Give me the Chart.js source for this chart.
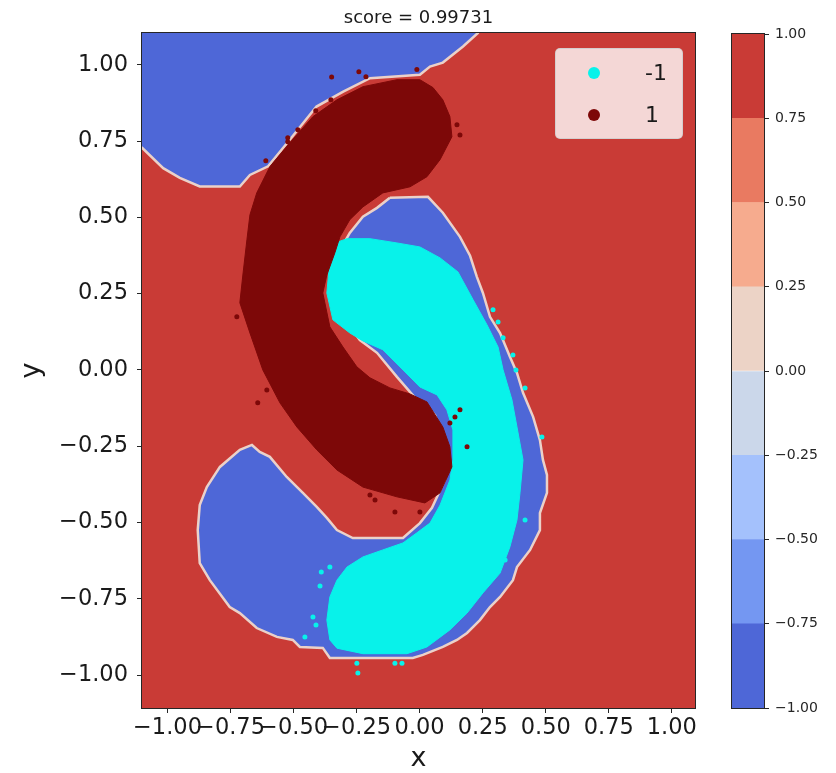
<!DOCTYPE html>
<html>
<head>
<meta charset="utf-8">
<script src="https://cdn.jsdelivr.net/npm/chart.js@4.4.1/dist/chart.umd.min.js"></script>
<style>
  html, body { margin: 0; padding: 0; background: #fff; }
  #wrap { position: relative; width: 836px; height: 773px; overflow: hidden; }
  #wrap canvas { position: absolute; top: 0; }
  #main { left: 0; }
  #cbar { left: 700px; }
  #legend {
    position: absolute; left: 555px; top: 48px; width: 126px; height: 89px;
    background: rgba(255,255,255,0.8); border: 1px solid rgba(204,204,204,0.8);
    border-radius: 5px; font-family: "DejaVu Sans", sans-serif; color: #1a1a1a;
  }
  .legend-row { position: absolute; left: 0; width: 100%; height: 30px; }
  .legend-row:nth-child(1) { top: 9px; }
  .legend-row:nth-child(2) { top: 51px; }
  .legend-dot { position: absolute; left: 32px; top: 9px; width: 12px; height: 12px; border-radius: 50%; }
  .legend-text { position: absolute; left: 89px; top: 0; font-size: 22px; line-height: 30px; }
</style>
</head>
<body>
<div id="wrap">
  <canvas id="main" width="836" height="773"></canvas>
  <canvas id="cbar" width="136" height="773"></canvas>
  <div id="legend"></div>
</div>
<script>
const title = "score = 0.99731";
const seriesLabels = ["-1", "1"];
const seriesColors = ["#08f2ea", "#7d0808"];
const xTicks = [-1, -0.75, -0.5, -0.25, 0, 0.25, 0.5, 0.75, 1];
const yTicks = [-1, -0.75, -0.5, -0.25, 0, 0.25, 0.5, 0.75, 1];
const xRange = [-1.101, 1.092];
const yRange = [-1.108, 1.104];

// contour levels of the decision function and their fill colours (coolwarm)
const levels = [-1, -0.75, -0.5, -0.25, 0, 0.25, 0.5, 0.75, 1];
const levelColors = ["#4e67d7", "#7497f2", "#a4c1fc", "#cbd7ea", "#ecd3c6", "#f6ab8e", "#e97a61", "#c93b36"];
const edgeColor = "#ebd1c9";

// region where the classifier says -1 (everything else is +1)
const blueTopLeft = [[-1.2,1.2],[-1.2,0.75],[-1.101,0.728],[-1.017,0.661],[-0.951,0.629],[-0.872,0.601],[-0.713,0.601],[-0.673,0.639],[-0.601,0.667],[-0.515,0.754],[-0.409,0.863],[-0.303,0.912],[-0.197,0.956],[0.001,0.967],[0.041,0.994],[0.092,1.007],[0.172,1.060],[0.231,1.104],[0.27,1.2]];
const blueMain = [[-0.118,0.564],[0.033,0.567],[0.092,0.515],[0.160,0.436],[0.200,0.374],[0.227,0.305],[0.251,0.252],[0.279,0.174],[0.319,0.121],[0.358,0.043],[0.386,-0.010],[0.410,-0.075],[0.450,-0.154],[0.477,-0.230],[0.489,-0.295],[0.505,-0.344],[0.505,-0.403],[0.477,-0.469],[0.477,-0.525],[0.438,-0.590],[0.386,-0.646],[0.370,-0.689],[0.319,-0.744],[0.279,-0.777],[0.239,-0.820],[0.188,-0.862],[0.148,-0.885],[0.092,-0.908],[0.013,-0.934],[-0.027,-0.944],[-0.356,-0.944],[-0.384,-0.911],[-0.475,-0.908],[-0.503,-0.885],[-0.566,-0.875],[-0.646,-0.846],[-0.713,-0.797],[-0.753,-0.777],[-0.832,-0.689],[-0.872,-0.633],[-0.880,-0.525],[-0.872,-0.443],[-0.844,-0.384],[-0.792,-0.318],[-0.713,-0.262],[-0.665,-0.246],[-0.634,-0.269],[-0.594,-0.285],[-0.527,-0.351],[-0.463,-0.403],[-0.408,-0.449],[-0.368,-0.485],[-0.328,-0.525],[-0.265,-0.551],[-0.066,-0.551],[0.001,-0.502],[0.049,-0.452],[0.100,-0.361],[0.100,-0.246],[0.061,-0.148],[0.029,-0.121],[-0.011,-0.098],[-0.090,-0.023],[-0.169,0.056],[-0.237,0.098],[-0.296,0.164],[-0.316,0.295],[-0.304,0.410],[-0.277,0.449],[-0.225,0.502],[-0.169,0.531]];

// outlines of the dense sample clouds
const cyanCloud = [[-0.336,0.416],[-0.288,0.430],[-0.197,0.430],[-0.090,0.416],[0.001,0.403],[0.081,0.367],[0.152,0.321],[0.212,0.230],[0.267,0.148],[0.311,0.075],[0.331,0.000],[0.366,-0.098],[0.386,-0.187],[0.410,-0.295],[0.398,-0.403],[0.386,-0.492],[0.358,-0.580],[0.319,-0.666],[0.251,-0.731],[0.188,-0.797],[0.120,-0.852],[0.029,-0.908],[-0.050,-0.930],[-0.090,-0.930],[-0.225,-0.930],[-0.328,-0.912],[-0.356,-0.885],[-0.368,-0.820],[-0.356,-0.744],[-0.328,-0.689],[-0.288,-0.646],[-0.225,-0.613],[-0.146,-0.590],[-0.066,-0.567],[-0.011,-0.534],[0.041,-0.502],[0.081,-0.443],[0.120,-0.361],[0.132,-0.295],[0.132,-0.197],[0.108,-0.131],[0.069,-0.082],[0.001,-0.056],[-0.066,0.000],[-0.146,0.066],[-0.225,0.095],[-0.277,0.121],[-0.344,0.164],[-0.368,0.252],[-0.356,0.361]];
const maroonCloud = [[0.128,-0.318],[0.081,-0.403],[0.021,-0.436],[-0.090,-0.416],[-0.225,-0.384],[-0.328,-0.328],[-0.408,-0.262],[-0.487,-0.187],[-0.554,-0.108],[-0.622,0.000],[-0.673,0.121],[-0.713,0.220],[-0.701,0.311],[-0.685,0.426],[-0.673,0.508],[-0.646,0.580],[-0.594,0.666],[-0.515,0.744],[-0.423,0.830],[-0.328,0.885],[-0.225,0.928],[-0.090,0.951],[0.001,0.951],[0.053,0.925],[0.092,0.885],[0.120,0.830],[0.128,0.764],[0.081,0.689],[0.029,0.633],[-0.038,0.600],[-0.146,0.580],[-0.225,0.534],[-0.277,0.492],[-0.316,0.436],[-0.336,0.384],[-0.368,0.311],[-0.384,0.252],[-0.356,0.141],[-0.304,0.075],[-0.249,0.010],[-0.197,-0.026],[-0.118,-0.059],[-0.038,-0.079],[0.029,-0.105],[0.092,-0.187],[0.120,-0.252]];

// stray samples outside the clouds
const cyanStray = [[-0.245,-0.993],[-0.249,-0.961],[-0.098,-0.961],[-0.070,-0.961],[-0.455,-0.875],[-0.423,-0.810],[-0.390,-0.662],[-0.356,-0.646],[-0.395,-0.708],[-0.411,-0.836],[0.485,-0.220],[0.418,-0.059],[0.382,0.000],[0.370,0.049],[0.311,0.157],[0.331,0.105],[0.291,0.197],[0.418,-0.492],[0.339,-0.623]];
const maroonStray = [[-0.349,0.960],[-0.241,0.977],[-0.213,0.961],[-0.352,0.885],[-0.412,0.849],[-0.483,0.787],[-0.523,0.761],[-0.523,0.748],[-0.610,0.685],[-0.011,0.984],[0.160,0.770],[0.148,0.803],[-0.725,0.174],[-0.642,-0.108],[-0.606,-0.066],[0.140,-0.154],[0.188,-0.252],[0.120,-0.174],[-0.098,-0.466],[-0.177,-0.426],[-0.197,-0.410],[0.001,-0.466],[0.160,-0.131]];

Chart.defaults.font.family = "'DejaVu Sans', sans-serif";
Chart.defaults.color = "#1a1a1a";

const fmt = v => (v < 0 ? "\u2212" : "") + Math.abs(v).toFixed(2);
const pts = arr => arr.map(([x, y]) => ({ x, y }));
const ring = arr => pts([...arr, arr[0]]);

function region(data, color, edge, width, order) {
  return { type: "line", data: ring(data), fill: "shape", backgroundColor: color, borderColor: edge, borderWidth: width,
    pointRadius: 0, pointHitRadius: 0, tension: 0, order };
}
function stray(data, color, order) {
  return { type: "scatter", data: pts(data), backgroundColor: color, borderWidth: 0, pointRadius: 2.5, order };
}

const plotFrame = {
  id: "plotFrame",
  beforeDatasetsDraw(chart, args, opts) {
    if (!opts.background) return;
    const { ctx, chartArea: a } = chart;
    ctx.save();
    ctx.fillStyle = opts.background;
    ctx.fillRect(a.left, a.top, a.width, a.height);
    ctx.restore();
  },
  afterDraw(chart, args, opts) {
    const { ctx, chartArea: a } = chart;
    ctx.save();
    ctx.strokeStyle = opts.color || "#262626";
    ctx.lineWidth = 1;
    ctx.strokeRect(a.left - 0.5, a.top - 0.5, a.width + 1, a.height + 1);
    ctx.restore();
  }
};

new Chart(document.getElementById("main"), {
  type: "scatter",
  data: {
    datasets: [
      region(blueTopLeft, levelColors[0], edgeColor, 2.5, 10),
      region(blueMain, levelColors[0], edgeColor, 2.5, 9),
      region(cyanCloud, seriesColors[0], seriesColors[0], 1, 6),
      stray(cyanStray, seriesColors[0], 5),
      region(maroonCloud, seriesColors[1], seriesColors[1], 1, 3),
      stray(maroonStray, seriesColors[1], 2),
    ]
  },
  options: {
    responsive: false, animation: false, devicePixelRatio: 1, events: [],
    layout: { padding: { left: 0, right: 141, top: 0, bottom: 0 } },
    plugins: {
      legend: { display: false },
      tooltip: { enabled: false },
      title: { display: true, text: title, fullSize: false, font: { size: 18, weight: "normal" }, color: "#1a1a1a", padding: { top: 8, bottom: 3.4 } },
      plotFrame: { background: levelColors[7] }
    },
    scales: {
      x: {
        type: "linear", min: xRange[0], max: xRange[1],
        afterBuildTicks: s => { s.ticks = xTicks.map(value => ({ value })); },
        afterFit: s => { s.height = 65; },
        grid: { drawOnChartArea: false, tickLength: 5, color: "#262626" },
        border: { display: false },
        ticks: { font: { size: 22.5 }, padding: 2, autoSkip: false, maxRotation: 0, callback: fmt },
        title: { display: true, text: "x", font: { size: 27 }, padding: { top: 0, bottom: -2 } }
      },
      y: {
        type: "linear", min: yRange[0], max: yRange[1],
        afterBuildTicks: s => { s.ticks = yTicks.map(value => ({ value })); },
        afterFit: s => { s.width = 142; },
        grid: { drawOnChartArea: false, tickLength: 5, color: "#262626" },
        border: { display: false },
        ticks: { font: { size: 22.5 }, padding: 9, autoSkip: false, callback: fmt },
        title: { display: true, text: "y", font: { size: 27 }, padding: { top: 16, bottom: 0 } }
      }
    }
  },
  plugins: [plotFrame]
});

// colorbar
new Chart(document.getElementById("cbar"), {
  type: "bar",
  data: {
    labels: [""],
    datasets: levelColors.map((c, i) => ({
      data: [[levels[i], levels[i + 1]]], backgroundColor: c, borderWidth: 0,
      barPercentage: 1, categoryPercentage: 1, grouped: false
    }))
  },
  options: {
    responsive: false, animation: false, devicePixelRatio: 1, events: [],
    layout: { padding: { left: 32, right: 0, top: 34, bottom: 65 } },
    plugins: { legend: { display: false }, tooltip: { enabled: false }, plotFrame: {} },
    scales: {
      x: { display: false },
      y: {
        position: "right", min: -1, max: 1,
        afterBuildTicks: s => { s.ticks = levels.map(value => ({ value })); },
        afterFit: s => { s.width = 72; },
        grid: { drawOnChartArea: false, tickLength: 5, color: "#262626" },
        border: { display: false },
        ticks: { font: { size: 14 }, color: "#262626", padding: 6, callback: fmt }
      }
    }
  },
  plugins: [plotFrame]
});

const legendBox = document.getElementById("legend");
seriesLabels.forEach((label, i) => {
  const row = document.createElement("div");
  row.className = "legend-row";
  row.innerHTML = `<span class="legend-dot" style="background:${seriesColors[i]}"></span><span class="legend-text">${label}</span>`;
  legendBox.appendChild(row);
});
</script>
</body>
</html>
